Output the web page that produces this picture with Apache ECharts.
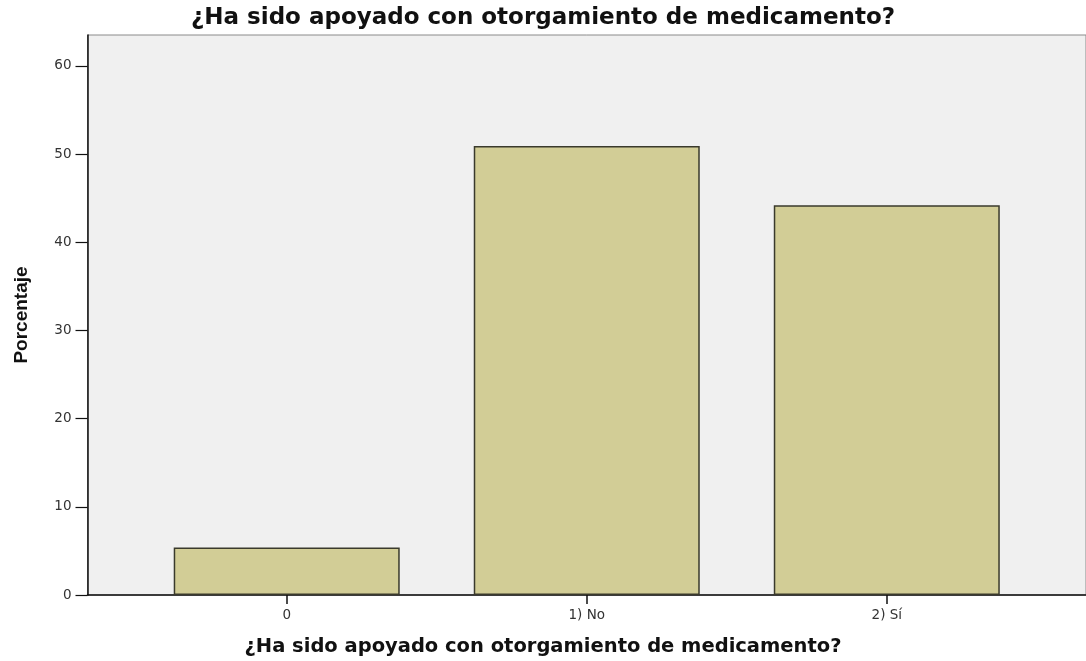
<!DOCTYPE html>
<html>
<head>
<meta charset="utf-8">
<title>Porcentaje</title>
<script src="https://cdn.jsdelivr.net/npm/echarts@6/dist/echarts.min.js"></script>
<style>
  html, body { margin: 0; padding: 0; background: #fff; }
  #chart { width: 1086px; height: 661px; }
</style>
</head>
<body>
<div id="chart"></div>
<script>
// datos del gráfico
var categorias = ['0', '1) No', '2) Sí'];
var porcentajes = [5.4, 50.9, 44.2];
var ticksY = [0, 10, 20, 30, 40, 50, 60];
var titulo = '¿Ha sido apoyado con otorgamiento de medicamento?';

(function () {
  var myChart = echarts.init(document.getElementById('chart'));

  // posiciones de las barras: índice de categoría
  var posX = categorias.map(function (c, i) { return i; });
  var datos = porcentajes.map(function (v, i) { return [posX[i], v]; });

  var option = {
    animation: false,
    title: [{
      text: titulo,
      left: 'center',
      top: 2,
      textStyle: { fontFamily: 'DejaVu Sans', fontWeight: 'bold', fontSize: 23, color: '#111' }
    }, {
      text: titulo,
      left: 'center',
      top: 632,
      textStyle: { fontFamily: 'DejaVu Sans', fontWeight: 'bold', fontSize: 19.5, color: '#111' }
    }],
    grid: {
      left: 87.5,
      top: 35,
      right: -2,
      bottom: 66,
      show: true,
      backgroundColor: '#f0f0f0',
      borderColor: '#8a8a8a',
      borderWidth: 1
    },
    xAxis: {
      type: 'value',
      min: -0.664,
      max: 2.664,
      splitLine: { show: false },
      axisLine: { show: true, onZero: false, lineStyle: { color: '#111', width: 1.5 } },
      axisTick: { show: true, length: 9, customValues: posX, lineStyle: { color: '#111', width: 1.5 } },
      axisLabel: {
        customValues: posX,
        margin: 13,
        fontFamily: 'DejaVu Sans',
        fontSize: 13.5,
        color: '#333',
        formatter: function (v) { return categorias[Math.round(v)]; }
      }
    },
    yAxis: {
      type: 'value',
      min: 0,
      max: 63.5,
      name: 'Porcentaje',
      nameLocation: 'middle',
      nameGap: 56,
      nameTextStyle: { fontFamily: 'Liberation Sans', fontWeight: 'bold', fontSize: 19, color: '#111' },
      splitLine: { show: false },
      axisLine: { show: true, onZero: false, lineStyle: { color: '#111', width: 1.5 } },
      axisTick: { show: true, length: 12, customValues: ticksY, lineStyle: { color: '#111', width: 1.2 } },
      axisLabel: {
        customValues: ticksY,
        margin: 16,
        fontFamily: 'DejaVu Sans',
        fontSize: 13.5,
        color: '#333'
      }
    },
    series: [{
      type: 'bar',
      barWidth: 226,
      data: datos,
      itemStyle: {
        color: '#d2cd96',
        borderColor: '#3a3a2c',
        borderWidth: 1.5
      }
    }]
  };

  myChart.setOption(option);

  window.addEventListener('resize', function () {
    myChart.resize();
  });
})();
</script>
</body>
</html>
